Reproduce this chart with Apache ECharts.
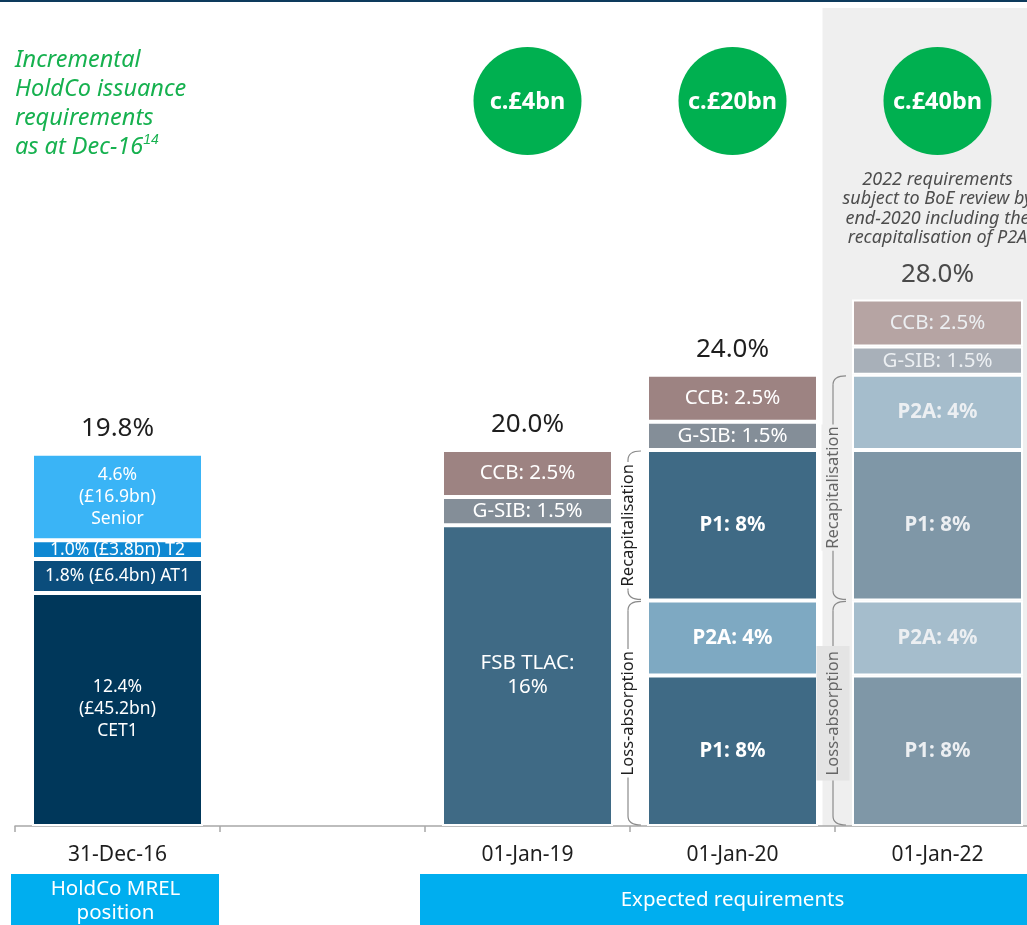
<!DOCTYPE html>
<html>
<head>
<meta charset="utf-8">
<script src="https://cdn.jsdelivr.net/npm/echarts@6/dist/echarts.min.js"></script>
<style>
  html, body { margin: 0; padding: 0; background: #fff; }
  #chart { width: 1027px; height: 925px; }
</style>
</head>
<body>
<div id="chart"></div>
<script>
// data
const categories = ['31-Dec-16', '', '01-Jan-19', '01-Jan-20', '01-Jan-22'];
const totals = ['19.8%', '', '20.0%', '24.0%', '28.0%'];

// stack layers, bottom to top
const dec16Values = [12.4, 1.8, 1.0, 4.6];
const dec16Labels = ['12.4%\n(£45.2bn)\nCET1', '1.8% (£6.4bn) AT1', '1.0% (£3.8bn) T2', '4.6%\n(£16.9bn)\nSenior'];
const jan19Values = [16, 1.5, 2.5];
const jan19Labels = ['FSB TLAC:\n16%', 'G-SIB: 1.5%', 'CCB: 2.5%'];
const jan20Values = [8, 4, 8, 1.5, 2.5];
const jan20Labels = ['P1: 8%', 'P2A: 4%', 'P1: 8%', 'G-SIB: 1.5%', 'CCB: 2.5%'];
const jan22Values = [8, 4, 8, 4, 1.5, 2.5];
const jan22Labels = ['P1: 8%', 'P2A: 4%', 'P1: 8%', 'P2A: 4%', 'G-SIB: 1.5%', 'CCB: 2.5%'];

const issuance = ['c.£4bn', 'c.£20bn', 'c.£40bn'];
const issuanceCats = [2, 3, 4];

// brackets: bar index, first layer, last layer, text
const brackets = [
  [3, 0, 1, 'Loss-absorption'],
  [3, 2, 2, 'Recapitalisation'],
  [4, 0, 1, 'Loss-absorption'],
  [4, 2, 3, 'Recapitalisation']
];

const FONT = '"Noto Sans", sans-serif';
const BAR_W = 171;

const bars = [
  { cat: 0, values: dec16Values, labels: dec16Labels,
    colors: ['#00375a', '#0b4d7c', '#0e88d2', '#3ab4f6'],
    bold: [false, false, false, false], size: 17.5, lh: 22, text: '#ffffff' },
  { cat: 2, values: jan19Values, labels: jan19Labels,
    colors: ['#3f6a85', '#848e98', '#9d8382'],
    bold: [false, false, false], size: 20.5, lh: 24, text: '#ffffff' },
  { cat: 3, values: jan20Values, labels: jan20Labels,
    colors: ['#3f6a85', '#7ea9c2', '#3f6a85', '#848e98', '#9d8382'],
    bold: [true, true, true, false, false], size: 20.5, lh: 24, text: '#ffffff' },
  { cat: 4, values: jan22Values, labels: jan22Labels,
    colors: ['#7f97a7', '#a5bdcc', '#7f97a7', '#a5bdcc', '#a8b0b9', '#b6a4a3'],
    bold: [true, true, true, true, false, false], size: 20.5, lh: 24, text: '#eceff2' }
];

function barAt(ci){
  return bars.find(b => b.cat === ci);
}

const layers = Math.max(...bars.map(b => b.values.length));
const series = [];
for(let l = 0; l < layers; l++){
  series.push({
    type: 'bar',
    stack: 'req',
    barWidth: BAR_W,
    itemStyle: { borderColor: '#fff', borderWidth: 2 },
    data: categories.map((c, ci) => {
      const b = barAt(ci);
      if(!b || l >= b.values.length) return '-';
      return {
        value: b.values[l],
        itemStyle: { color: b.colors[l] },
        label: {
          show: true,
          position: 'inside',
          formatter: b.labels[l],
          color: b.text,
          fontFamily: FONT,
          fontSize: b.size,
          lineHeight: b.lh,
          fontWeight: b.bold[l] ? 'bold' : 'normal'
        }
      };
    })
  });
}
// totals on top of each stack
series.push({
  type: 'bar',
  stack: 'req',
  barWidth: BAR_W,
  itemStyle: { color: 'transparent' },
  data: categories.map((c, ci) => totals[ci] ? 0 : '-'),
  label: {
    show: true,
    position: 'top',
    distance: 12,
    fontFamily: FONT,
    fontSize: 26,
    color: '#1e1e1e',
    formatter: p => totals[p.dataIndex]
  },
  z: 5
});
series[series.length - 1].data[4] = { value: 0, label: { color: '#4a4a4a' } };

const chart = echarts.init(document.getElementById('chart'));
chart.setOption({
  backgroundColor: '#ffffff',
  animation: false,
  grid: { left: 15, width: 1025, bottom: 99, height: 564, outerBoundsMode: 'none', containLabel: false },
  xAxis: {
    type: 'category',
    data: categories,
    axisLine: { lineStyle: { color: '#a8a8a8', width: 1.5 } },
    axisTick: { show: true, length: 6, lineStyle: { color: '#a8a8a8', width: 1.5 } },
    axisLabel: { color: '#1e1e1e', fontFamily: FONT, fontSize: 21, margin: 19 }
  },
  yAxis: { type: 'value', min: 0, max: 30, show: false },
  series: series
});

// decorations placed from the axis scale
function px(ci, v){
  return chart.convertToPixel({ gridIndex: 0 }, [ci, v]);
}
function stackSum(b, n){
  let s = 0;
  for(let i = 0; i < n; i++) s += b.values[i];
  return s;
}

const g = [];
const baseY = px(0, 0)[1];

// top rule
g.push({ type: 'rect', shape: { x: 0, y: 0, width: 1027, height: 2 }, style: { fill: '#0d3a5c' }, z: 0 });

// grey panel behind the 2022 column
const c22 = px(4, 0)[0];
g.push({ type: 'rect', shape: { x: c22 - 115, y: 8, width: 300, height: baseY - 8 }, style: { fill: '#efefef' }, z: -1 });

// title
g.push({
  type: 'text', x: 15, y: 46, z: 10,
  style: {
    text: 'Incremental\nHoldCo issuance\nrequirements\nas at Dec-16{sup|14}',
    fill: '#16b14f',
    font: 'italic 23.5px ' + FONT,
    lineHeight: 29,
    rich: { sup: { fontSize: 14, fontStyle: 'italic', fill: '#16b14f', padding: [0, 0, 14, 0] } }
  }
});

// issuance circles
issuance.forEach((t, i) => {
  const cx = px(issuanceCats[i], 0)[0];
  g.push({ type: 'circle', shape: { cx: cx, cy: 101, r: 54 }, style: { fill: '#00b050' }, z: 10 });
  g.push({
    type: 'text', x: cx, y: 102, z: 11,
    style: { text: t, fill: '#ffffff', font: 'bold 23.5px ' + FONT, align: 'center', verticalAlign: 'middle' }
  });
});

// note above 2022
g.push({
  type: 'text', x: c22, y: 170, z: 10,
  style: {
    text: '2022 requirements\nsubject to BoE review by\nend-2020 including the\nrecapitalisation of P2A',
    fill: '#4d4d4d',
    font: 'italic 18px ' + FONT,
    lineHeight: 19.5,
    align: 'center'
  }
});

// brackets
brackets.forEach(([ci, from, to, text]) => {
  const b = barAt(ci);
  const cx = px(ci, 0)[0];
  const lx = cx - BAR_W / 2 - 19;
  const y1 = px(ci, stackSum(b, to + 1))[1] + 1;
  const y2 = px(ci, stackSum(b, from))[1] - 1;
  const r = 9;
  const st = { stroke: '#8a8a8a', lineWidth: 1.2, fill: null };
  g.push({ type: 'bezierCurve', z: 8, shape: { x1: lx + 13, y1: y1, cpx1: lx, cpy1: y1, x2: lx, y2: y1 + r }, style: st });
  g.push({ type: 'line', z: 8, shape: { x1: lx, y1: y1 + r, x2: lx, y2: y2 - r }, style: st });
  g.push({ type: 'bezierCurve', z: 8, shape: { x1: lx, y1: y2 - r, cpx1: lx, cpy1: y2, x2: lx + 13, y2: y2 }, style: st });
  const inPanel = ci === 4;
  const bg = inPanel ? (text === 'Loss-absorption' ? '#e4e4e4' : '#efefef') : '#ffffff';
  g.push({
    type: 'text', x: lx, y: (y1 + y2) / 2, rotation: Math.PI / 2, z: 9,
    style: {
      text: text,
      fill: inPanel ? '#666' : '#1e1e1e',
      font: '16.5px ' + FONT,
      align: 'center',
      verticalAlign: 'middle',
      backgroundColor: bg,
      padding: inPanel && text === 'Loss-absorption' ? [8, 5] : [3, 2]
    }
  });
});

// bottom boxes
const c16 = px(0, 0)[0];
const c20 = px(3, 0)[0];
g.push({ type: 'rect', shape: { x: 11, y: 874, width: 208, height: 51 }, style: { fill: '#00aeef' }, z: 10 });
g.push({
  type: 'text', x: c16 - 2, y: 901, z: 11,
  style: { text: 'HoldCo MREL\nposition', fill: '#ffffff', font: '20.5px ' + FONT, lineHeight: 24, align: 'center', verticalAlign: 'middle' }
});
g.push({ type: 'rect', shape: { x: 420, y: 874, width: 640, height: 51 }, style: { fill: '#00aeef' }, z: 10 });
g.push({
  type: 'text', x: c20, y: 900, z: 11,
  style: { text: 'Expected requirements', fill: '#ffffff', font: '20.5px ' + FONT, align: 'center', verticalAlign: 'middle' }
});

chart.setOption({ graphic: { elements: g } });
</script>
</body>
</html>
